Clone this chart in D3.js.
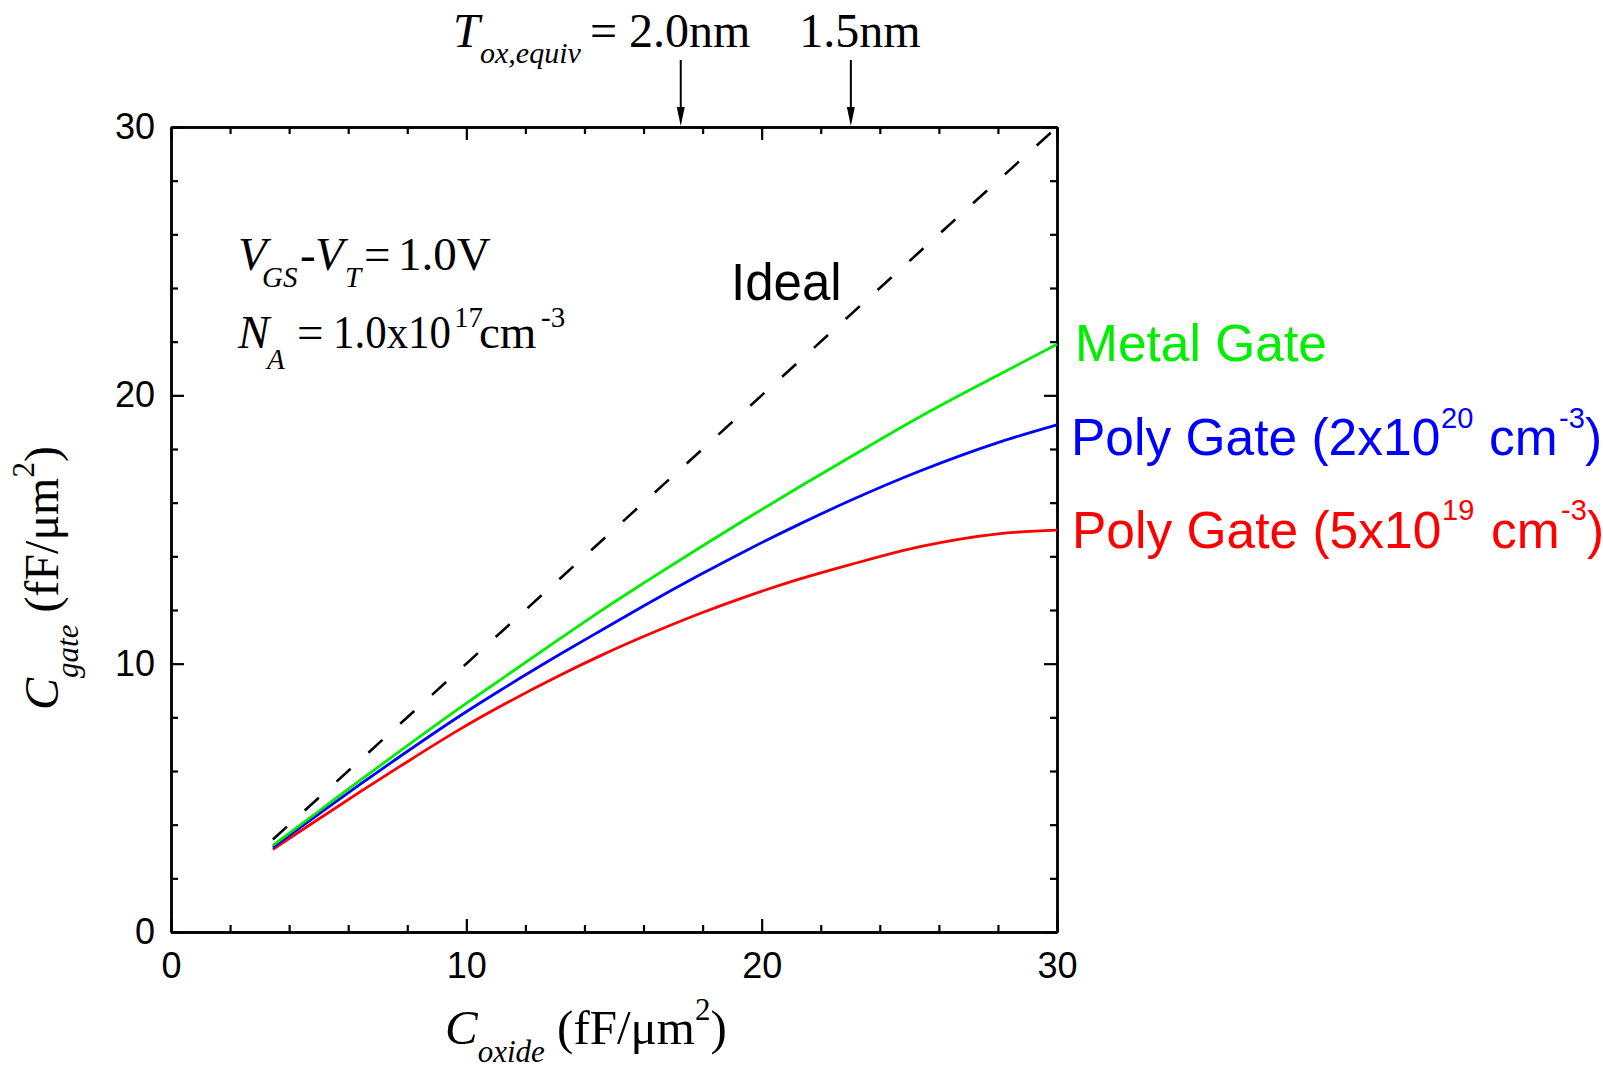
<!DOCTYPE html>
<html>
<head>
<meta charset="utf-8">
<script src="https://cdn.jsdelivr.net/npm/d3@7"></script>
<style>
  html, body { margin: 0; padding: 0; background: #fff; }
  svg { display: block; }
</style>
</head>
<body>
<svg id="chart" width="1603" height="1070"></svg>
<script>
// ---------------- data ----------------
const coxValues = [3.45, 5, 6.4, 7.75, 9.79, 11.14, 13.17, 14.53, 16, 17.91, 19.5, 21.3, 23, 25.36, 28, 30];
const metalGate = [3.23, 4.50, 5.65, 6.74, 8.36, 9.39, 10.93, 11.95, 13.0, 14.33, 15.41, 16.6, 17.7, 19.2, 20.75, 21.9];
const polyGate2e20 = [3.15, 4.39, 5.50, 6.54, 8.06, 9.0, 10.35, 11.22, 12.15, 13.31, 14.23, 15.21, 16.08, 17.18, 18.24, 18.9];
const polyGate5e19 = [3.08, 4.21, 5.22, 6.17, 7.56, 8.40, 9.57, 10.29, 11.01, 11.87, 12.51, 13.16, 13.69, 14.36, 14.84, 14.98];
const idealX = [3.45, 30];
const idealY = [3.45, 30];
const majorTicks = [0, 10, 20, 30];
const minorTicks = [2, 4, 6, 8, 12, 14, 16, 18, 22, 24, 26, 28];
const arrowCox = [17.26, 23.02];
const arrowLabels = ["2.0nm", "1.5nm"];

// ---------------- layout ----------------
const svg = d3.select("#chart");
const L = 171, R = 1057, T = 127, B = 932;
const x = d3.scaleLinear().domain([0, 30]).range([L, R]);
const y = d3.scaleLinear().domain([0, 30]).range([B, T]);
const SANS = "'Liberation Sans', Arial, Helvetica, sans-serif";
const SERIF = "'Liberation Serif', 'Times New Roman', Times, serif";

function styleAxis(g) {
  g.selectAll("path.domain").attr("stroke", "#000").attr("stroke-width", 2.5);
  g.selectAll(".tick line").attr("stroke", "#000").attr("stroke-width", 2.2);
  g.selectAll(".tick text").attr("font-family", SANS).attr("font-size", 36).attr("fill", "#000");
}

// minor ticks
svg.append("g").attr("transform", `translate(0,${B})`)
  .call(d3.axisBottom(x).tickValues(minorTicks).tickSize(-7).tickSizeOuter(0).tickFormat(""))
  .call(styleAxis);
svg.append("g").attr("transform", `translate(0,${T})`)
  .call(d3.axisTop(x).tickValues(minorTicks).tickSize(-7).tickSizeOuter(0).tickFormat(""))
  .call(styleAxis);
svg.append("g").attr("transform", `translate(${L},0)`)
  .call(d3.axisLeft(y).tickValues(minorTicks).tickSize(-7).tickSizeOuter(0).tickFormat(""))
  .call(styleAxis);
svg.append("g").attr("transform", `translate(${R},0)`)
  .call(d3.axisRight(y).tickValues(minorTicks).tickSize(-7).tickSizeOuter(0).tickFormat(""))
  .call(styleAxis);

// major ticks + labels
svg.append("g").attr("transform", `translate(0,${B})`)
  .call(d3.axisBottom(x).tickValues(majorTicks).tickSize(-13).tickSizeOuter(0).tickPadding(20).tickFormat(d3.format("d")))
  .call(styleAxis);
svg.append("g").attr("transform", `translate(0,${T})`)
  .call(d3.axisTop(x).tickValues(majorTicks).tickSize(-13).tickSizeOuter(0).tickFormat(""))
  .call(styleAxis);
svg.append("g").attr("transform", `translate(${L},0)`)
  .call(d3.axisLeft(y).tickValues(majorTicks).tickSize(-13).tickSizeOuter(0).tickPadding(16).tickFormat(d3.format("d")))
  .call(styleAxis);
svg.append("g").attr("transform", `translate(${R},0)`)
  .call(d3.axisRight(y).tickValues(majorTicks).tickSize(-13).tickSizeOuter(0).tickFormat(""))
  .call(styleAxis);

// ---------------- lines ----------------
const line = d3.line().x(d => x(d[0])).y(d => y(d[1])).curve(d3.curveMonotoneX);
const series = [
  { vals: polyGate5e19, color: "#ff0000" },
  { vals: polyGate2e20, color: "#0000ff" },
  { vals: metalGate, color: "#00ee00" }
];
series.forEach(s => {
  svg.append("path")
    .datum(coxValues.map((c, i) => [c, s.vals[i]]))
    .attr("fill", "none").attr("stroke", s.color).attr("stroke-width", 2.8)
    .attr("stroke-linejoin", "round")
    .attr("d", line);
});
svg.append("path")
  .datum(idealX.map((c, i) => [c, idealY[i]]))
  .attr("fill", "none").attr("stroke", "#000").attr("stroke-width", 2.6)
  .attr("stroke-dasharray", "19,24")
  .attr("d", d3.line().x(d => x(d[0])).y(d => y(d[1])));

// ---------------- series labels ----------------
function label(yp, parts, color) {
  const t = svg.append("text").attr("font-family", SANS).attr("fill", color).attr("y", yp);
  parts.forEach(p => {
    t.append("tspan").attr("x", p.x).attr("y", yp + (p.dy || 0))
      .attr("font-size", p.size || 51.5).text(p.t);
  });
}
label(361, [{ t: "Metal Gate", x: 1075 }], "#00ee00");
label(455, [
  { t: "Poly Gate (2x10", x: 1071 },
  { t: "20", x: 1441, size: 29, dy: -27 },
  { t: "cm", x: 1489 },
  { t: "-3", x: 1559, size: 29, dy: -27 },
  { t: ")", x: 1585 }
], "#0000ff");
label(548, [
  { t: "Poly Gate (5x10", x: 1072 },
  { t: "19", x: 1442, size: 29, dy: -28 },
  { t: "cm", x: 1491 },
  { t: "-3", x: 1561, size: 29, dy: -28 },
  { t: ")", x: 1587 }
], "#ff0000");

svg.append("text").attr("x", 731).attr("y", 300)
  .attr("font-family", SANS).attr("font-size", 51).attr("fill", "#000").text("Ideal");

// ---------------- serif annotations ----------------
function serifText(parts) {
  const t = svg.append("text").attr("font-family", SERIF).attr("fill", "#000");
  parts.forEach(p => {
    const ts = t.append("tspan").attr("x", p.x).attr("y", p.y)
      .attr("font-size", p.size || 47).text(p.t);
    if (p.it) ts.attr("font-style", "italic");
  });
  return t;
}
serifText([
  { t: "V", x: 238, y: 270, it: true },
  { t: "GS", x: 262, y: 287, size: 29, it: true },
  { t: "-", x: 300, y: 270 },
  { t: "V", x: 315, y: 270, it: true },
  { t: "T", x: 345, y: 287, size: 29, it: true },
  { t: "=", x: 364, y: 270 },
  { t: "1.0V", x: 398, y: 270 }
]);
serifText([
  { t: "N", x: 238, y: 348, it: true },
  { t: "A", x: 267, y: 369, size: 29, it: true },
  { t: "=", x: 297, y: 348 }
]);
svg.append("text").attr("x", 333).attr("y", 348).attr("font-family", SERIF)
  .attr("font-size", 47).attr("textLength", 118).attr("lengthAdjust", "spacingAndGlyphs").text("1.0x10");
serifText([
  { t: "17", x: 454, y: 327, size: 29 },
  { t: "cm", x: 479, y: 348 },
  { t: "-3", x: 541, y: 327, size: 29 }
]);

// top annotation
serifText([
  { t: "T", x: 453, y: 47, size: 48, it: true },
  { t: "ox,equiv", x: 480, y: 63, size: 30, it: true },
  { t: "=", x: 590, y: 47, size: 48 }
]);
arrowCox.forEach((c, i) => {
  const xp = x(c);
  svg.append("text").attr("x", xp + 9).attr("y", 47).attr("text-anchor", "middle")
    .attr("font-family", SERIF).attr("font-size", 48).attr("fill", "#000").text(arrowLabels[i]);
  svg.append("line").attr("x1", xp).attr("x2", xp).attr("y1", 60).attr("y2", 112)
    .attr("stroke", "#000").attr("stroke-width", 2);
  svg.append("path").attr("d", `M${xp - 4},${107} L${xp + 4},${107} L${xp},${126} Z`).attr("fill", "#000");
});

// axis titles
const xt = svg.append("text").attr("x", 445).attr("y", 1044).attr("font-family", SERIF).attr("fill", "#000");
xt.append("tspan").attr("font-style", "italic").attr("font-size", 49).text("C");
xt.append("tspan").attr("font-style", "italic").attr("font-size", 31).attr("dy", 18).text("oxide");
xt.append("tspan").attr("font-size", 49).attr("dy", -18).text(" (fF/μm");
xt.append("tspan").attr("font-size", 31).attr("dy", -24).text("2");
xt.append("tspan").attr("font-size", 49).attr("dy", 24).text(")");

const yt = svg.append("text").attr("transform", "translate(58,710) rotate(-90)")
  .attr("font-family", SERIF).attr("fill", "#000");
yt.append("tspan").attr("font-style", "italic").attr("font-size", 48).text("C");
yt.append("tspan").attr("font-style", "italic").attr("font-size", 31).attr("dy", 20).text("gate");
yt.append("tspan").attr("font-size", 48).attr("dy", -20).text(" (fF/μm");
yt.append("tspan").attr("font-size", 31).attr("dy", -24).text("2");
yt.append("tspan").attr("font-size", 48).attr("dy", 24).text(")");
</script>
</body>
</html>
